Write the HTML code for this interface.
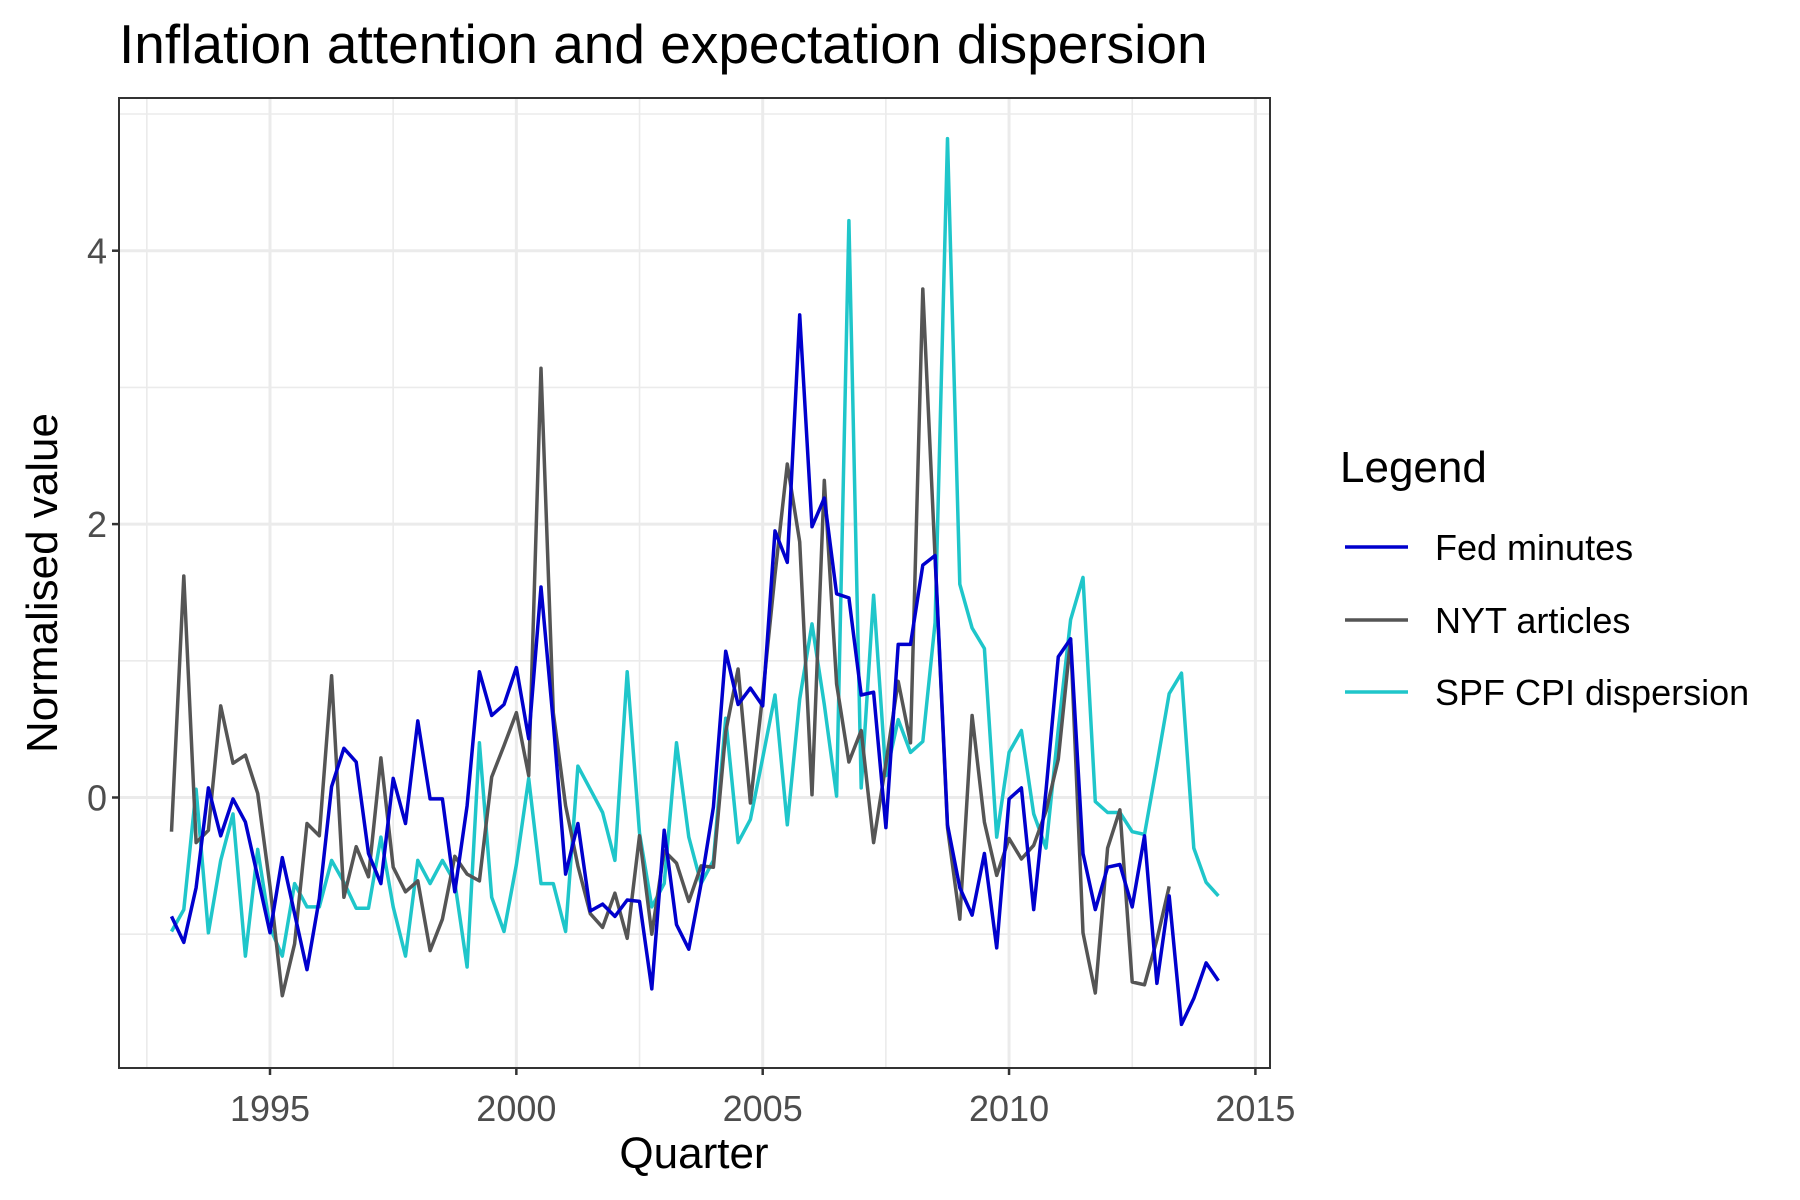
<!DOCTYPE html>
<html><head><meta charset="utf-8">
<style>
html,body{margin:0;padding:0;background:#fff;}
svg{display:block;font-family:"Liberation Sans",Arial,sans-serif;}
</style></head>
<body>
<svg id="chart" width="1800" height="1200" viewBox="0 0 1800 1200" xmlns="http://www.w3.org/2000/svg">
<text x="119" y="63" font-size="55" fill="#000">Inflation attention and expectation dispersion</text>
<rect x="119" y="98" width="1151" height="970" fill="#fff"/>
<g id="grid"></g>
<g id="series"></g>
<rect x="119" y="98" width="1151" height="970" fill="none" stroke="#333" stroke-width="2"/>
<g id="axes"></g>
<text x="694" y="1168" font-size="44" text-anchor="middle" fill="#000">Quarter</text>
<text transform="translate(57,583) rotate(-90)" font-size="44" text-anchor="middle" fill="#000">Normalised value</text>
<g>
<text x="1340" y="482" font-size="44" fill="#000">Legend</text>
<g>
<line x1="1345" y1="547" x2="1408" y2="547" stroke="#0000CD" stroke-width="3.5"/>
<text x="1435" y="560" font-size="36" fill="#000">Fed minutes</text></g>
<g>
<line x1="1345" y1="620" x2="1408" y2="620" stroke="#555555" stroke-width="3.5"/>
<text x="1435" y="633" font-size="36" fill="#000">NYT articles</text></g>
<g>
<line x1="1345" y1="692" x2="1408" y2="692" stroke="#1FC6CA" stroke-width="3.5"/>
<text x="1435" y="705" font-size="36" fill="#000">SPF CPI dispersion</text></g>
</g>
</svg>
<script>
const startYear = 1993;
const fedMinutes = [-0.87,-1.06,-0.66,0.07,-0.28,-0.01,-0.18,-0.58,-0.99,-0.44,-0.85,-1.26,-0.74,0.08,0.36,0.26,-0.41,-0.63,0.14,-0.19,0.56,-0.01,-0.01,-0.69,-0.06,0.92,0.6,0.68,0.95,0.43,1.54,0.55,-0.56,-0.19,-0.83,-0.78,-0.87,-0.75,-0.76,-1.4,-0.24,-0.93,-1.11,-0.63,-0.07,1.07,0.68,0.8,0.67,1.95,1.72,3.53,1.98,2.19,1.49,1.46,0.75,0.77,-0.22,1.12,1.12,1.7,1.77,-0.2,-0.66,-0.86,-0.41,-1.1,-0.01,0.07,-0.82,0.05,1.03,1.16,-0.41,-0.82,-0.51,-0.49,-0.8,-0.28,-1.36,-0.72,-1.66,-1.47,-1.21,-1.34];
const nytArticles = [-0.25,1.62,-0.33,-0.24,0.67,0.25,0.31,0.03,-0.65,-1.45,-1.07,-0.19,-0.28,0.89,-0.73,-0.36,-0.58,0.29,-0.51,-0.69,-0.61,-1.12,-0.89,-0.43,-0.56,-0.61,0.15,0.38,0.62,0.16,3.14,0.62,-0.06,-0.5,-0.85,-0.95,-0.7,-1.03,-0.28,-1.0,-0.39,-0.48,-0.76,-0.5,-0.51,0.48,0.94,-0.04,0.75,1.63,2.44,1.87,0.02,2.32,0.83,0.26,0.49,-0.33,0.25,0.85,0.4,3.72,1.75,-0.22,-0.89,0.6,-0.18,-0.57,-0.3,-0.45,-0.35,-0.1,0.28,1.16,-0.99,-1.43,-0.37,-0.09,-1.35,-1.37,-1.04,-0.65];
const spfDispersion = [-0.98,-0.82,0.06,-0.99,-0.46,-0.12,-1.16,-0.38,-0.95,-1.16,-0.63,-0.8,-0.8,-0.46,-0.62,-0.81,-0.81,-0.29,-0.8,-1.16,-0.46,-0.63,-0.46,-0.62,-1.24,0.4,-0.73,-0.98,-0.49,0.14,-0.63,-0.63,-0.98,0.23,0.06,-0.11,-0.46,0.92,-0.26,-0.8,-0.63,0.4,-0.29,-0.63,-0.46,0.58,-0.33,-0.16,0.29,0.75,-0.2,0.72,1.27,0.68,0.01,4.22,0.07,1.48,0.16,0.57,0.33,0.41,1.28,4.82,1.56,1.24,1.09,-0.29,0.33,0.49,-0.12,-0.37,0.5,1.3,1.61,-0.03,-0.11,-0.11,-0.25,-0.27,0.24,0.76,0.91,-0.37,-0.62,-0.72];
const xTicks = [1995,2000,2005,2010,2015];
const xMinor = [1992.5,1997.5,2002.5,2007.5,2012.5];
const yTicks = [0,2,4];
const yMinor = [-1,1,3,5];

const NS = "http://www.w3.org/2000/svg";
const PL=119, PR=1270, PT=98, PB=1068;
function xs(yr){ return 270 + (yr-1995)*49.27; }
function ys(v){ return 797.5 - v*136.7; }
function mk(tag, attrs, parent){ const e=document.createElementNS(NS,tag); for(const k in attrs) e.setAttribute(k,attrs[k]); parent.appendChild(e); return e; }

const grid=document.getElementById('grid');
yMinor.forEach(v=>{ const l=mk('line',{x1:PL,x2:PR,y1:ys(v),y2:ys(v),stroke:'#EBEBEB','stroke-width':1.6},grid);

 });
xMinor.forEach(v=>{ const l=mk('line',{x1:xs(v),x2:xs(v),y1:PT,y2:PB,stroke:'#EBEBEB','stroke-width':1.6},grid);

 });
yTicks.forEach(v=>{ const l=mk('line',{x1:PL,x2:PR,y1:ys(v),y2:ys(v),stroke:'#EBEBEB','stroke-width':3},grid);

 });
xTicks.forEach(v=>{ const l=mk('line',{x1:xs(v),x2:xs(v),y1:PT,y2:PB,stroke:'#EBEBEB','stroke-width':3},grid);

 });

const axes=document.getElementById('axes');
xTicks.forEach(v=>{
  const t=mk('line',{x1:xs(v),x2:xs(v),y1:PB,y2:PB+7,stroke:'#333','stroke-width':2.5},axes);
  
  
  const lb=mk('text',{x:xs(v),y:1121,'font-size':36,'text-anchor':'middle',fill:'#4D4D4D'},axes);
  lb.textContent=v;
  
  
});
yTicks.forEach(v=>{
  const t=mk('line',{x1:PL-7,x2:PL,y1:ys(v),y2:ys(v),stroke:'#333','stroke-width':2.5},axes);
  
  
  const lb=mk('text',{x:PL-12,y:ys(v)+13,'font-size':36,'text-anchor':'end',fill:'#4D4D4D'},axes);
  lb.textContent=v;
  
  
});

const series=document.getElementById('series');
function drawLine(vals,color,name){
  const pts=vals.map((v,i)=>xs(startYear+i*0.25).toFixed(1)+','+ys(v).toFixed(1)).join(' ');
  const p=mk('polyline',{points:pts,fill:'none',stroke:color,'stroke-width':3.5,'stroke-linejoin':'round'},series);
  
  
}
drawLine(spfDispersion,'#1FC6CA','spf-cpi-dispersion-line');
drawLine(nytArticles,'#555555','nyt-articles-line');
drawLine(fedMinutes,'#0000CD','fed-minutes-line');
</script>
</body></html>
